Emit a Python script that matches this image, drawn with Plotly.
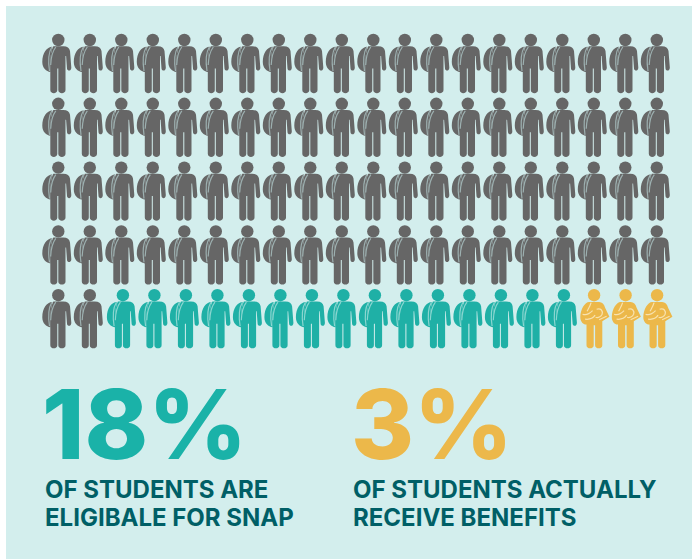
import re
import plotly.graph_objects as go

# Pictogram of 100 students, filled row by row
COLUMNS = 20
ROWS = 5
group_names = ["Not eligible", "Eligible, no benefits", "Receive benefits"]
group_counts = [82, 15, 3]
group_colors = ["#666666", "#1fb0a6", "#ecb84a"]
strap_colors = ["#9db0b0", "#8ad6d0", "#f8e2ae"]

big_numbers = ["18%", "3%"]
captions = [["OF STUDENTS ARE", "ELIGIBALE FOR SNAP"],
            ["OF STUDENTS ACTUALLY", "RECEIVE BENEFITS"]]

PANEL = "#d3eeed"
BIG_COLORS = ["#1ab2a8", "#ecb84a"]
CAPTION_COLOR = "#005f66"
W, H = 696, 559

# Icon outlines in pixels, measured from the centre of the head, y pointing down
STANDING_BODY = (
    "M-5,6.2 L5,6.2 C9,6.2 11.2,8 11.7,11 L13,27.5 C13.2,31.4 9,31.4 8.7,28.5 L7.8,16 L7.2,16 "
    "L7.2,50 C7.2,54.2 0,54.2 0,50 L0,28.5 L-1,28.5 L-1,50 C-1,54.2 -8,54.2 -8,50 "
    "L-8,24 C-8,16 -7,10 -5,6.2 Z"
)
STANDING_PACK = (
    "M-6,6.8 C-11.5,7 -16,13 -16,22 C-16,28 -12,31.5 -7.8,32 "
    "L-7.8,20 C-7.5,14 -6.5,10 -6,6.8 Z"
)
STANDING_STRAPS = [
    "M-2.5,7 C-5.5,11 -7.3,17 -7.6,25",
    "M-6.5,7 C-9.5,12 -10.2,22 -8.8,31",
]
CARRYING_BODY = (
    "M-5,6.8 L5,6.8 C8,6.8 10,9 11,12.5 L15.3,21.5 L8.2,26 L8.2,50 C8.2,54.2 1,54.2 1,50 "
    "L1,30 L-0.4,30 L-0.4,50 C-0.4,54.2 -7.6,54.2 -7.6,50 L-7.6,29.3 C-10,29.8 -13.8,27 -13.8,22 "
    "C-13.8,14 -9,6.8 -5,6.8 Z"
)
CARRYING_STRAPS = [
    "M-3,7.5 C-4,11 -5.5,13 -7,16",
    "M-11.5,19 C-8,20.5 -4,18 -1.5,15.5",
    "M-9,24 C-5,24.5 -1,23 1,20",
    "M2.5,14 C7,12.5 9,16 8,19 C7,21.5 4,23 1.5,22",
    "M5,24.5 L12.5,21",
]
# Small horizontal nudge of each group against the grid, in pixels
GROUP_NUDGE = [0.0, 1.6, 0.3]


def shifted(path, dx):
    """Convert an outline to anchored pixel units, where positive y points up."""
    return re.sub(
        r"(-?\d+\.?\d*),(-?\d+\.?\d*)",
        lambda m: f"{float(m.group(1)) + dx:.2f},{-float(m.group(2)):.2f}",
        path,
    )


def icon_shapes(col, row, group):
    filled = [CARRYING_BODY] if group == 2 else [STANDING_PACK, STANDING_BODY]
    straps = CARRYING_STRAPS if group == 2 else STANDING_STRAPS
    base = dict(type="path", xref="x", yref="y", xsizemode="pixel", ysizemode="pixel",
                xanchor=col, yanchor=row, layer="above")
    nudge = GROUP_NUDGE[group]
    out = [dict(base, path=shifted(p, nudge), fillcolor=group_colors[group], line_width=0)
           for p in filled]
    out += [dict(base, path=shifted(p, nudge), fillcolor="rgba(0,0,0,0)",
                 line=dict(color=strap_colors[group], width=1.2)) for p in straps]
    return out


# Grid cell for every student, group by group
labels = [g for g, n in enumerate(group_counts) for _ in range(n)]
cells = [(i % COLUMNS, i // COLUMNS) for i in range(len(labels))]

fig = go.Figure()
shapes = [dict(type="rect", xref="paper", yref="paper", x0=6 / W, x1=692 / W, y0=0,
               y1=1 - 6 / H, fillcolor=PANEL, line_width=0, layer="below")]

for g, name in enumerate(group_names):
    members = [c for c, lab in zip(cells, labels) if lab == g]
    # Heads are real markers on the grid; the bodies hang from the same anchors
    fig.add_trace(go.Scatter(
        x=[c + GROUP_NUDGE[g] / 31.5 for c, _ in members],
        y=[r for _, r in members],
        mode="markers", name=name, showlegend=False, hoverinfo="skip",
        marker=dict(symbol="circle", size=12.4, color=group_colors[g], line_width=0),
    ))
    for c, r in members:
        shapes.extend(icon_shapes(c, r, g))

FONT = "Inter"
annotations = []


def add_text(text, left, baseline, size, color, weight):
    annotations.append(dict(
        text=text, xref="paper", yref="paper", x=left / W, y=1 - baseline / H,
        xanchor="left", yanchor="bottom", showarrow=False, borderpad=0,
        font=dict(family=FONT, size=size, color=color, weight=weight),
    ))


add_text(big_numbers[0], 41, 483, 96, BIG_COLORS[0], 800)
add_text(big_numbers[1], 350, 483, 96, BIG_COLORS[1], 800)
for left, lines in zip((44, 352), captions):
    add_text(lines[0], left, 505, 24, CAPTION_COLOR, 700)
    add_text(lines[1], left, 533, 24, CAPTION_COLOR, 700)

# One column is 31.5 px and one row 63.8 px; the first head sits at (58.3, 40)
fig.update_layout(
    width=W, height=H, margin=dict(l=0, r=0, t=0, b=0),
    paper_bgcolor="#ffffff", plot_bgcolor="rgba(0,0,0,0)",
    xaxis=dict(visible=False, range=[-58.3 / 31.5, (W - 58.3) / 31.5], fixedrange=True),
    yaxis=dict(visible=False, range=[(H - 40) / 63.8, -40 / 63.8], fixedrange=True),
    shapes=shapes, annotations=annotations, showlegend=False,
)
fig.write_html("out.html", config={"displayModeBar": False})
